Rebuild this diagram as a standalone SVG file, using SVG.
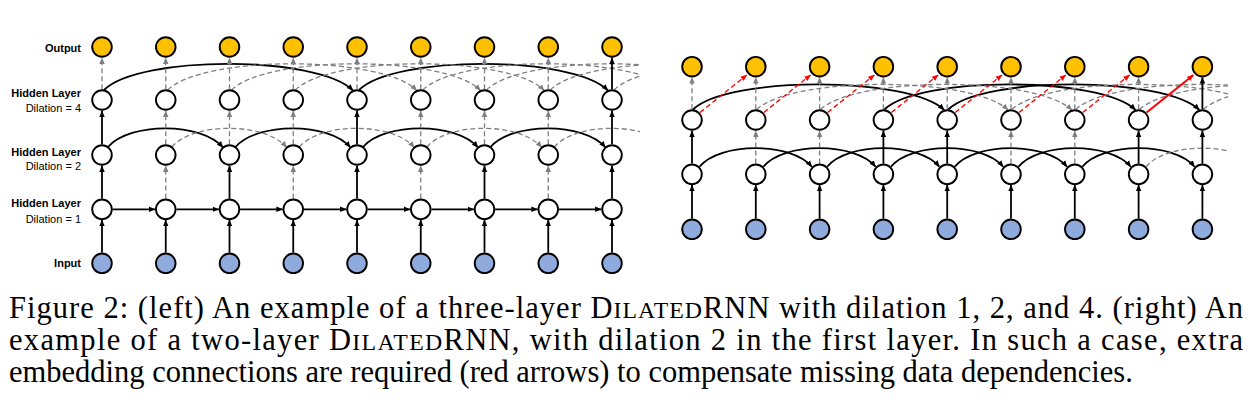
<svg xmlns="http://www.w3.org/2000/svg" width="1256" height="410" viewBox="0 0 1256 410">
<defs>
<marker id="mk" viewBox="0 0 10 10" refX="9.5" refY="5" markerWidth="6.5" markerHeight="6.5" markerUnits="userSpaceOnUse" orient="auto"><path d="M0,0.8 L10,5 L0,9.2 z" fill="#000"/></marker>
<marker id="mg" viewBox="0 0 10 10" refX="9.5" refY="5" markerWidth="6.5" markerHeight="6.5" markerUnits="userSpaceOnUse" orient="auto"><path d="M0,0.8 L10,5 L0,9.2 z" fill="#7f7f7f"/></marker>
<marker id="mr" viewBox="0 0 10 10" refX="9.5" refY="5" markerWidth="6.5" markerHeight="6.5" markerUnits="userSpaceOnUse" orient="auto"><path d="M0,0.8 L10,5 L0,9.2 z" fill="#ff0000"/></marker>
<clipPath id="clipL"><rect x="0" y="0" width="640" height="290"/></clipPath>
<clipPath id="clipR"><rect x="660" y="0" width="568" height="290"/></clipPath>
</defs>
<style>
.s{fill:none;stroke:#000;stroke-width:1.8;marker-end:url(#mk)}
.d{fill:none;stroke:#7f7f7f;stroke-width:1.3;stroke-dasharray:5 3;marker-end:url(#mg)}
.dn{fill:none;stroke:#7f7f7f;stroke-width:1.3;stroke-dasharray:5 3}
.r{fill:none;stroke:#ff0000;stroke-width:1.3;stroke-dasharray:5 3;marker-end:url(#mr)}
.rs{fill:none;stroke:#ff0000;stroke-width:2;marker-end:url(#mr)}
circle{stroke:#000;stroke-width:1.9}
.o{fill:#FFC000}
.h{fill:#fff}
.i{fill:#8FAADC}
.lb{font-family:"Liberation Sans",Arial,sans-serif;font-size:11px;font-weight:bold;text-anchor:end;fill:#000}
.ln{font-family:"Liberation Sans",Arial,sans-serif;font-size:11px;text-anchor:end;fill:#000}
.cap{font-family:"Liberation Serif","Times New Roman",serif;font-size:30.5px;fill:#000}
.sc{font-size:23.8px}
</style>

<g id="connectors">
<!-- LEFT: input -> h1 -->
<path class="s" d="M102,252.6V220"/><path class="s" d="M165.75,252.6V220"/><path class="s" d="M229.5,252.6V220"/><path class="s" d="M293.25,252.6V220"/><path class="s" d="M357,252.6V220"/><path class="s" d="M420.75,252.6V220"/><path class="s" d="M484.5,252.6V220"/><path class="s" d="M548.25,252.6V220"/><path class="s" d="M612,252.6V220"/>
<!-- LEFT: h1 horizontal -->
<path class="s" d="M112.7,209.3H155.05"/><path class="s" d="M176.45,209.3H218.8"/><path class="s" d="M240.2,209.3H282.55"/><path class="s" d="M303.95,209.3H346.3"/><path class="s" d="M367.7,209.3H410.05"/><path class="s" d="M431.45,209.3H473.8"/><path class="s" d="M495.2,209.3H537.55"/><path class="s" d="M558.95,209.3H601.3"/>
<!-- LEFT: h1 -> h2 -->
<path class="s" d="M102,198.6V165.7"/><path class="d" d="M165.75,198.6V165.7"/><path class="s" d="M229.5,198.6V165.7"/><path class="d" d="M293.25,198.6V165.7"/><path class="s" d="M357,198.6V165.7"/><path class="d" d="M420.75,198.6V165.7"/><path class="s" d="M484.5,198.6V165.7"/><path class="d" d="M548.25,198.6V165.7"/><path class="s" d="M612,198.6V165.7"/>
<!-- LEFT: h2 arcs (dilation 2) -->
<path class="s" d="M108,147 C130,122 201,122 223,147.5"/>
<path class="s" d="M235.5,147 C257.5,122 328.5,122 350.5,147.5"/>
<path class="s" d="M363,147 C385,122 456,122 478,147.5"/>
<path class="s" d="M490.5,147 C512.5,122 583.5,122 605.5,147.5"/>
<path class="d" d="M171.75,147 C193.75,122 264.75,122 286.75,147.5"/>
<path class="d" d="M299.25,147 C321.25,122 392.25,122 414.25,147.5"/>
<path class="d" d="M426.75,147 C448.75,122 519.75,122 541.75,147.5"/>
<path class="dn" clip-path="url(#clipL)" d="M554.25,147 C576.25,122 647.25,122 669.25,147.5"/>
<!-- LEFT: h2 -> h4 -->
<path class="s" d="M102,144.3V110.7"/><path class="d" d="M165.75,144.3V110.7"/><path class="d" d="M229.5,144.3V110.7"/><path class="d" d="M293.25,144.3V110.7"/><path class="s" d="M357,144.3V110.7"/><path class="d" d="M420.75,144.3V110.7"/><path class="d" d="M484.5,144.3V110.7"/><path class="d" d="M548.25,144.3V110.7"/><path class="s" d="M612,144.3V110.7"/>
<!-- LEFT: h4 arcs (dilation 4) -->
<path class="s" d="M104,90 C139,55 318,55 353,90.5"/>
<path class="s" d="M359,90 C394,55 573,55 608,90.5"/>
<path class="d" d="M167.75,90 C202.75,55 381.75,55 416.75,90.5"/>
<path class="d" d="M231.5,90 C266.5,55 445.5,55 480.5,90.5"/>
<path class="d" d="M295.25,90 C330.25,55 509.25,55 544.25,90.5"/>
<path class="dn" clip-path="url(#clipL)" d="M422.75,90 C457.75,55 636.75,55 671.75,90.5"/>
<path class="dn" clip-path="url(#clipL)" d="M486.5,90 C521.5,55 700.5,55 735.5,90.5"/>
<path class="dn" clip-path="url(#clipL)" d="M550.25,90 C585.25,55 764.25,55 799.25,90.5"/>
<path class="dn" clip-path="url(#clipL)" d="M614,90 C649,55 828,55 863,90.5"/>
<!-- LEFT: h4 -> output -->
<path class="d" d="M102,89.3V57.7"/><path class="d" d="M165.75,89.3V57.7"/><path class="d" d="M229.5,89.3V57.7"/><path class="d" d="M293.25,89.3V57.7"/><path class="d" d="M357,89.3V57.7"/><path class="d" d="M420.75,89.3V57.7"/><path class="d" d="M484.5,89.3V57.7"/><path class="d" d="M548.25,89.3V57.7"/><path class="s" d="M612,89.3V57.7"/>

<!-- RIGHT: input -> h1 -->
<path class="s" d="M692,218.6V185"/><path class="s" d="M755.8,218.6V185"/><path class="s" d="M819.6,218.6V185"/><path class="s" d="M883.4,218.6V185"/><path class="s" d="M947.2,218.6V185"/><path class="s" d="M1011,218.6V185"/><path class="s" d="M1074.8,218.6V185"/><path class="s" d="M1138.6,218.6V185"/><path class="s" d="M1202.4,218.6V185"/>
<!-- RIGHT: h1 arcs (dilation 2) -->
<path class="s" d="M699.5,166.8 C719.5,142 791.8,142 811.8,166.8"/>
<path class="s" d="M763.3,166.8 C783.3,142 855.6,142 875.6,166.8"/>
<path class="s" d="M827.1,166.8 C847.1,142 919.4,142 939.4,166.8"/>
<path class="s" d="M890.9,166.8 C910.9,142 983.2,142 1003.2,166.8"/>
<path class="s" d="M954.7,166.8 C974.7,142 1047,142 1067,166.8"/>
<path class="s" d="M1018.5,166.8 C1038.5,142 1110.8,142 1130.8,166.8"/>
<path class="s" d="M1082.3,166.8 C1102.3,142 1174.6,142 1194.6,166.8"/>
<path class="dn" clip-path="url(#clipR)" d="M1146.1,166.8 C1166.1,142 1238.4,142 1258.4,166.8"/>
<!-- RIGHT: h1 -> h2 -->
<path class="s" d="M692,163.6V130.7"/><path class="d" d="M755.8,163.6V130.7"/><path class="d" d="M819.6,163.6V130.7"/><path class="s" d="M883.4,163.6V130.7"/><path class="s" d="M947.2,163.6V130.7"/><path class="d" d="M1011,163.6V130.7"/><path class="d" d="M1074.8,163.6V130.7"/><path class="s" d="M1138.6,163.6V130.7"/><path class="s" d="M1202.4,163.6V130.7"/>
<!-- RIGHT: h2 arcs (dilation 4) -->
<path class="s" d="M693,109.5 C728,76 909.2,76 944.2,110"/>
<path class="s" d="M884.4,109.5 C919.4,76 1100.6,76 1135.6,110"/>
<path class="s" d="M948.2,109.5 C983.2,76 1164.4,76 1199.4,110"/>
<path class="d" d="M756.8,109.5 C791.8,76 973,76 1008,110"/>
<path class="d" d="M820.6,109.5 C855.6,76 1036.8,76 1071.8,110"/>
<path class="dn" clip-path="url(#clipR)" d="M1012,109.5 C1047,76 1228.2,76 1263.2,110"/>
<path class="dn" clip-path="url(#clipR)" d="M1075.8,109.5 C1110.8,76 1292,76 1327,110"/>
<path class="dn" clip-path="url(#clipR)" d="M1139.6,109.5 C1174.6,76 1355.8,76 1390.8,110"/>
<path class="dn" clip-path="url(#clipR)" d="M1203.4,109.5 C1238.4,76 1419.6,76 1454.6,110"/>
<!-- RIGHT: h2 -> output -->
<path class="d" d="M692,109.3V77.4"/><path class="d" d="M755.8,109.3V77.4"/><path class="d" d="M819.6,109.3V77.4"/><path class="d" d="M883.4,109.3V77.4"/><path class="d" d="M947.2,109.3V77.4"/><path class="d" d="M1011,109.3V77.4"/><path class="d" d="M1074.8,109.3V77.4"/><path class="d" d="M1138.6,109.3V77.4"/><path class="s" d="M1202.4,109.3V77.4"/>
<!-- RIGHT: red embedding connections -->
<path class="r" d="M700,112.5L746.8,75"/>
<path class="r" d="M763.8,112.5L810.6,75"/>
<path class="r" d="M827.6,112.5L874.4,75"/>
<path class="r" d="M891.4,112.5L938.2,75"/>
<path class="r" d="M955.2,112.5L1002,75"/>
<path class="r" d="M1019,112.5L1065.8,75"/>
<path class="r" d="M1082.8,112.5L1129.6,75"/>
<path class="rs" d="M1146.6,112.5L1193.4,75"/>
</g>

<g id="labels">
<text class="lb" x="81" y="51.7">Output</text>
<text class="lb" x="81" y="96.7">Hidden Layer</text>
<text class="ln" x="81" y="111.7">Dilation = 4</text>
<text class="lb" x="81" y="156">Hidden Layer</text>
<text class="ln" x="81" y="170">Dilation = 2</text>
<text class="lb" x="81" y="207">Hidden Layer</text>
<text class="ln" x="81" y="222.5">Dilation = 1</text>
<text class="lb" x="81" y="266.7">Input</text>
</g>

<g id="L-out-0"><circle class="o" cx="102" cy="47" r="9.8"/></g>
<g id="L-out-1"><circle class="o" cx="165.75" cy="47" r="9.8"/></g>
<g id="L-out-2"><circle class="o" cx="229.5" cy="47" r="9.8"/></g>
<g id="L-out-3"><circle class="o" cx="293.25" cy="47" r="9.8"/></g>
<g id="L-out-4"><circle class="o" cx="357" cy="47" r="9.8"/></g>
<g id="L-out-5"><circle class="o" cx="420.75" cy="47" r="9.8"/></g>
<g id="L-out-6"><circle class="o" cx="484.5" cy="47" r="9.8"/></g>
<g id="L-out-7"><circle class="o" cx="548.25" cy="47" r="9.8"/></g>
<g id="L-out-8"><circle class="o" cx="612" cy="47" r="9.8"/></g>

<g id="L-h4-0"><circle class="h" cx="102" cy="100" r="9.8"/></g>
<g id="L-h4-1"><circle class="h" cx="165.75" cy="100" r="9.8"/></g>
<g id="L-h4-2"><circle class="h" cx="229.5" cy="100" r="9.8"/></g>
<g id="L-h4-3"><circle class="h" cx="293.25" cy="100" r="9.8"/></g>
<g id="L-h4-4"><circle class="h" cx="357" cy="100" r="9.8"/></g>
<g id="L-h4-5"><circle class="h" cx="420.75" cy="100" r="9.8"/></g>
<g id="L-h4-6"><circle class="h" cx="484.5" cy="100" r="9.8"/></g>
<g id="L-h4-7"><circle class="h" cx="548.25" cy="100" r="9.8"/></g>
<g id="L-h4-8"><circle class="h" cx="612" cy="100" r="9.8"/></g>

<g id="L-h2-0"><circle class="h" cx="102" cy="155" r="9.8"/></g>
<g id="L-h2-1"><circle class="h" cx="165.75" cy="155" r="9.8"/></g>
<g id="L-h2-2"><circle class="h" cx="229.5" cy="155" r="9.8"/></g>
<g id="L-h2-3"><circle class="h" cx="293.25" cy="155" r="9.8"/></g>
<g id="L-h2-4"><circle class="h" cx="357" cy="155" r="9.8"/></g>
<g id="L-h2-5"><circle class="h" cx="420.75" cy="155" r="9.8"/></g>
<g id="L-h2-6"><circle class="h" cx="484.5" cy="155" r="9.8"/></g>
<g id="L-h2-7"><circle class="h" cx="548.25" cy="155" r="9.8"/></g>
<g id="L-h2-8"><circle class="h" cx="612" cy="155" r="9.8"/></g>

<g id="L-h1-0"><circle class="h" cx="102" cy="209.3" r="9.8"/></g>
<g id="L-h1-1"><circle class="h" cx="165.75" cy="209.3" r="9.8"/></g>
<g id="L-h1-2"><circle class="h" cx="229.5" cy="209.3" r="9.8"/></g>
<g id="L-h1-3"><circle class="h" cx="293.25" cy="209.3" r="9.8"/></g>
<g id="L-h1-4"><circle class="h" cx="357" cy="209.3" r="9.8"/></g>
<g id="L-h1-5"><circle class="h" cx="420.75" cy="209.3" r="9.8"/></g>
<g id="L-h1-6"><circle class="h" cx="484.5" cy="209.3" r="9.8"/></g>
<g id="L-h1-7"><circle class="h" cx="548.25" cy="209.3" r="9.8"/></g>
<g id="L-h1-8"><circle class="h" cx="612" cy="209.3" r="9.8"/></g>

<g id="L-in-0"><circle class="i" cx="102" cy="263.3" r="9.8"/></g>
<g id="L-in-1"><circle class="i" cx="165.75" cy="263.3" r="9.8"/></g>
<g id="L-in-2"><circle class="i" cx="229.5" cy="263.3" r="9.8"/></g>
<g id="L-in-3"><circle class="i" cx="293.25" cy="263.3" r="9.8"/></g>
<g id="L-in-4"><circle class="i" cx="357" cy="263.3" r="9.8"/></g>
<g id="L-in-5"><circle class="i" cx="420.75" cy="263.3" r="9.8"/></g>
<g id="L-in-6"><circle class="i" cx="484.5" cy="263.3" r="9.8"/></g>
<g id="L-in-7"><circle class="i" cx="548.25" cy="263.3" r="9.8"/></g>
<g id="L-in-8"><circle class="i" cx="612" cy="263.3" r="9.8"/></g>

<g id="R-out-0"><circle class="o" cx="692" cy="66.7" r="9.8"/></g>
<g id="R-out-1"><circle class="o" cx="755.8" cy="66.7" r="9.8"/></g>
<g id="R-out-2"><circle class="o" cx="819.6" cy="66.7" r="9.8"/></g>
<g id="R-out-3"><circle class="o" cx="883.4" cy="66.7" r="9.8"/></g>
<g id="R-out-4"><circle class="o" cx="947.2" cy="66.7" r="9.8"/></g>
<g id="R-out-5"><circle class="o" cx="1011" cy="66.7" r="9.8"/></g>
<g id="R-out-6"><circle class="o" cx="1074.8" cy="66.7" r="9.8"/></g>
<g id="R-out-7"><circle class="o" cx="1138.6" cy="66.7" r="9.8"/></g>
<g id="R-out-8"><circle class="o" cx="1202.4" cy="66.7" r="9.8"/></g>

<g id="R-h2-0"><circle class="h" cx="692" cy="120" r="9.8"/></g>
<g id="R-h2-1"><circle class="h" cx="755.8" cy="120" r="9.8"/></g>
<g id="R-h2-2"><circle class="h" cx="819.6" cy="120" r="9.8"/></g>
<g id="R-h2-3"><circle class="h" cx="883.4" cy="120" r="9.8"/></g>
<g id="R-h2-4"><circle class="h" cx="947.2" cy="120" r="9.8"/></g>
<g id="R-h2-5"><circle class="h" cx="1011" cy="120" r="9.8"/></g>
<g id="R-h2-6"><circle class="h" cx="1074.8" cy="120" r="9.8"/></g>
<g id="R-h2-7"><circle class="h" cx="1138.6" cy="120" r="9.8"/></g>
<g id="R-h2-8"><circle class="h" cx="1202.4" cy="120" r="9.8"/></g>

<g id="R-h1-0"><circle class="h" cx="692" cy="174.3" r="9.8"/></g>
<g id="R-h1-1"><circle class="h" cx="755.8" cy="174.3" r="9.8"/></g>
<g id="R-h1-2"><circle class="h" cx="819.6" cy="174.3" r="9.8"/></g>
<g id="R-h1-3"><circle class="h" cx="883.4" cy="174.3" r="9.8"/></g>
<g id="R-h1-4"><circle class="h" cx="947.2" cy="174.3" r="9.8"/></g>
<g id="R-h1-5"><circle class="h" cx="1011" cy="174.3" r="9.8"/></g>
<g id="R-h1-6"><circle class="h" cx="1074.8" cy="174.3" r="9.8"/></g>
<g id="R-h1-7"><circle class="h" cx="1138.6" cy="174.3" r="9.8"/></g>
<g id="R-h1-8"><circle class="h" cx="1202.4" cy="174.3" r="9.8"/></g>

<g id="R-in-0"><circle class="i" cx="692" cy="229.3" r="9.8"/></g>
<g id="R-in-1"><circle class="i" cx="755.8" cy="229.3" r="9.8"/></g>
<g id="R-in-2"><circle class="i" cx="819.6" cy="229.3" r="9.8"/></g>
<g id="R-in-3"><circle class="i" cx="883.4" cy="229.3" r="9.8"/></g>
<g id="R-in-4"><circle class="i" cx="947.2" cy="229.3" r="9.8"/></g>
<g id="R-in-5"><circle class="i" cx="1011" cy="229.3" r="9.8"/></g>
<g id="R-in-6"><circle class="i" cx="1074.8" cy="229.3" r="9.8"/></g>
<g id="R-in-7"><circle class="i" cx="1138.6" cy="229.3" r="9.8"/></g>
<g id="R-in-8"><circle class="i" cx="1202.4" cy="229.3" r="9.8"/></g>

<g id="caption">
<text class="cap" x="9" y="318" textLength="1234" lengthAdjust="spacing">Figure 2: (left) An example of a three-layer D<tspan class="sc">ILATED</tspan>RNN with dilation 1, 2, and 4. (right) An</text>
<text class="cap" x="9" y="350" textLength="1234" lengthAdjust="spacing">example of a two-layer D<tspan class="sc">ILATED</tspan>RNN, with dilation 2 in the first layer. In such a case, extra</text>
<text class="cap" x="9" y="382">embedding connections are required (red arrows) to compensate missing data dependencies.</text>
</g>
</svg>
